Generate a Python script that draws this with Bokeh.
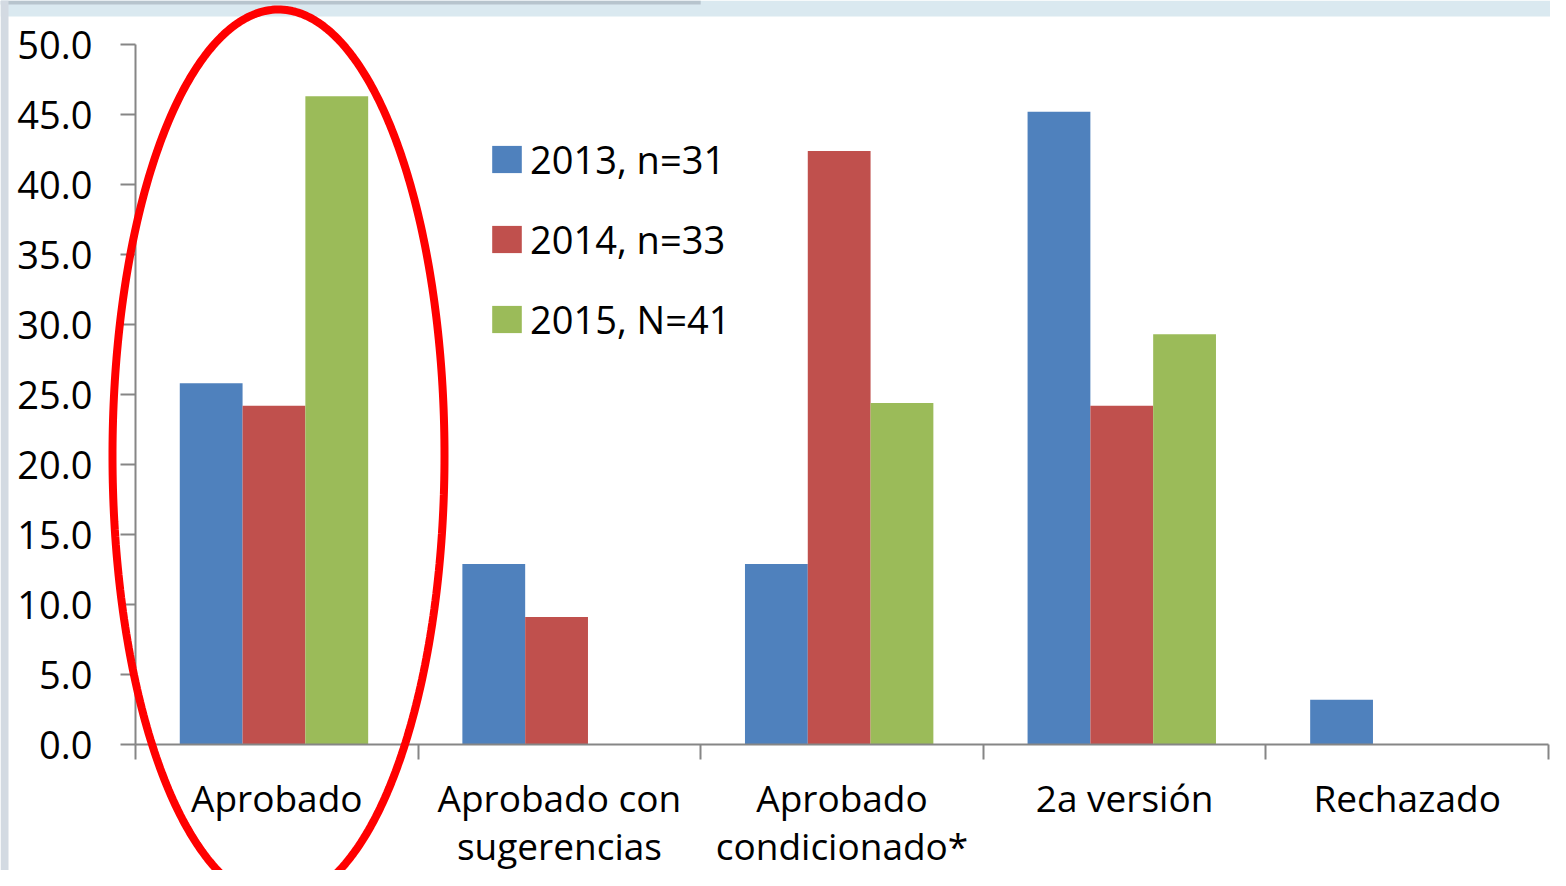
import numpy as np
from bokeh.plotting import figure
from bokeh.models import (ColumnDataSource, FixedTicker, PrintfTickFormatter, Legend,
                          LegendItem, PolyAnnotation, BoxAnnotation, Range1d)
from bokeh.transform import dodge
from bokeh.embed import file_html
from bokeh.resources import INLINE

# ---- data ----
categories = ["Aprobado", "Aprobado con\nsugerencias", "Aprobado\ncondicionado*",
              "2a versión", "Rechazado"]
series_names = ["2013, n=31", "2014, n=33", "2015, N=41"]
v2013 = [25.8, 12.9, 12.9, 45.2, 3.2]
v2014 = [24.2, 9.1, 42.4, 24.2, 0.0]
v2015 = [46.3, 0.0, 24.4, 29.3, 0.0]
y_ticks = [0, 5, 10, 15, 20, 25, 30, 35, 40, 45, 50]

colors = ["#4F81BD", "#C0504D", "#9BBB59"]
FONT = "Open Sans"
FS = "38px"

W, H = 1550, 870
# pixel layout of the plotting area inside the canvas
X0_PX, X1_PX = 135, 1548     # x = 0 and x = 5
Y0_PX, Y1_PX = 744, 44       # y = 0 and y = 50 (from top)
ncat = len(categories)
ymax = y_ticks[-1]
xs_per_px = ncat / (X1_PX - X0_PX)
ys_per_px = ymax / (Y0_PX - Y1_PX)

x_range = Range1d(-X0_PX * xs_per_px, ncat + (W - X1_PX) * xs_per_px)
y_range = Range1d(-(H - Y0_PX) * ys_per_px, ymax + Y1_PX * ys_per_px)

centers = [i + 0.5 for i in range(ncat)]
bounds = [i for i in range(ncat + 1)]

src = ColumnDataSource(dict(x=centers, s2013=v2013, s2014=v2014, s2015=v2015))

p = figure(width=W, height=H, output_backend="svg", toolbar_location=None,
           x_range=x_range, y_range=y_range,
           min_border_left=0, min_border_right=0, min_border_top=0, min_border_bottom=0)
p.outline_line_color = None
p.grid.visible = False
p.background_fill_color = "white"
p.border_fill_color = "white"

# slide background fringe (top band, left strip)
def px_to_y(py):
    return ymax + (Y1_PX - py) * ys_per_px

p.add_layout(BoxAnnotation(bottom=px_to_y(16), fill_color="#DAE9F0",
                           fill_alpha=1, line_color=None, level="underlay"))
p.add_layout(BoxAnnotation(bottom=px_to_y(4), right=2.0, fill_color="#B7C4CD",
                           fill_alpha=1, line_color=None, level="underlay"))
p.add_layout(BoxAnnotation(right=x_range.start + 8 * xs_per_px, fill_color="#D3DAE2",
                           fill_alpha=1, line_color=None, level="underlay"))

bw = 1 / 4.5
renderers = []
for k, (col, c) in enumerate(zip(["s2013", "s2014", "s2015"], colors)):
    r = p.vbar(x=dodge("x", (k - 1) * bw - 0.01, range=p.x_range), top=col, width=bw,
               source=src, fill_color=c, line_color=None)
    renderers.append(r)

# axes (drawn at fixed data locations so the whole canvas is the frame)
ax = p.xaxis[0]
ax.fixed_location = 0
ax.bounds = (0, ncat)
ax.ticker = FixedTicker(ticks=centers, minor_ticks=bounds)
ax.major_label_overrides = {c: lab for c, lab in zip(centers, categories)}
ax.major_tick_out = 0
ax.major_tick_in = 0
ax.minor_tick_out = 15
ax.minor_tick_in = 0
ax.minor_tick_line_color = "#868686"
ax.minor_tick_line_width = 2
ax.axis_line_color = "#868686"
ax.axis_line_width = 2
ax.major_label_text_font = FONT
ax.major_label_text_font_size = "37px"
ax.major_label_text_color = "black"
ax.major_label_standoff = 12
ax.major_label_text_line_height = 0.95

ay = p.yaxis[0]
ay.fixed_location = 0
ay.bounds = (0, ymax)
ay.ticker = FixedTicker(ticks=y_ticks)
ay.formatter = PrintfTickFormatter(format="%.1f")
ay.major_tick_out = 15
ay.major_tick_in = 0
ay.minor_tick_out = 0
ay.minor_tick_in = 0
ay.major_tick_line_color = "#868686"
ay.major_tick_line_width = 2
ay.axis_line_color = "#868686"
ay.axis_line_width = 2
ay.major_label_text_font = FONT
ay.major_label_text_font_size = FS
ay.major_label_text_color = "black"
ay.major_label_standoff = 28

legend = Legend(items=[LegendItem(label=n, renderers=[r]) for n, r in zip(series_names, renderers)],
                location=(488, 525), orientation="vertical",
                glyph_width=37, glyph_height=34, label_standoff=5,
                label_text_font=FONT, label_text_font_size=FS, label_text_color="black",
                label_height=27, spacing=28, padding=0, margin=0,
                border_line_color=None, background_fill_alpha=0)
p.add_layout(legend)

# red highlight ellipse around the first category
t = np.linspace(0, 2 * np.pi, 360)
cx = (278 - X0_PX) * xs_per_px
cy = (Y0_PX - 455) * ys_per_px
a = 166 * xs_per_px
b = 446 * ys_per_px
p.add_layout(PolyAnnotation(xs=list(cx + a * np.cos(t)), ys=list(cy + b * np.sin(t)),
                            fill_alpha=0, line_color="#FF0000", line_alpha=1, line_width=8))

open("out.html", "w").write(file_html(p, INLINE))
